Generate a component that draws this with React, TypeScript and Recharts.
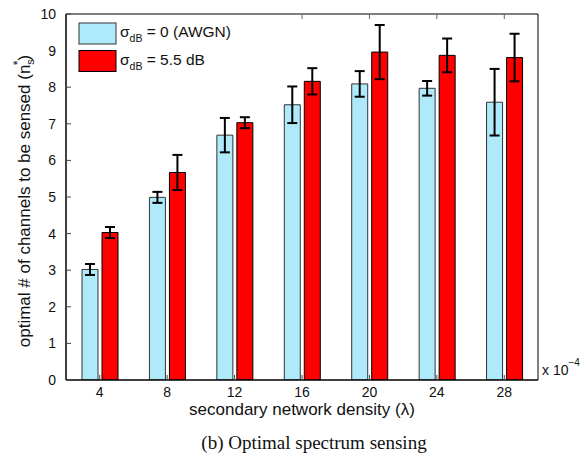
import React from 'react';
import { BarChart, Bar, XAxis, YAxis, ErrorBar, Legend, Customized } from 'recharts';

// ---- data ----
const lambdaLabels = ['4', '8', '12', '16', '20', '24', '28'];
const awgnMean = [3.02, 4.99, 6.69, 7.52, 8.09, 7.97, 7.59];
const awgnErr = [0.15, 0.15, 0.47, 0.5, 0.35, 0.2, 0.91];
const shadowMean = [4.03, 5.67, 7.03, 8.16, 8.96, 8.87, 8.81];
const shadowErr = [0.15, 0.48, 0.15, 0.36, 0.74, 0.46, 0.65];
const yTicks = [0, 1, 2, 3, 4, 5, 6, 7, 8, 9, 10];
const seriesNames = [
  { base: 'σ', sub: 'dB', rest: ' = 0 (AWGN)' },
  { base: 'σ', sub: 'dB', rest: ' = 5.5 dB' },
];

const data = lambdaLabels.map((l, i) => ({
  lambda: l,
  awgn: awgnMean[i],
  awgnErr: awgnErr[i],
  shadow: shadowMean[i],
  shadowErr: shadowErr[i],
}));

// ---- layout ----
const W = 588;
const H = 456;
const LEFT = 66;
const TOP = 14;
const RIGHT = 538;
const BOTTOM = 380;
const X_AXIS_H = 30;
const TOP_AXIS_H = 10;
const RIGHT_AXIS_W = 10;
const FONT = '"Liberation Sans", Arial, Helvetica, sans-serif';
const BLUE = '#AEEAF9';
const RED = '#FF0000';

const LeftTick = (props: any) => {
  const { y, payload } = props;
  return (
    <g>
      <text x={LEFT - 10} y={y + 5} textAnchor="end" fontSize={14} fontFamily={FONT} fill="#111">
        {payload.value}
      </text>
      <line x1={LEFT} x2={LEFT + 5} y1={y} y2={y} stroke="#444" strokeWidth={1} />
    </g>
  );
};

const RightTick = (props: any) => {
  const { y } = props;
  return <line x1={RIGHT} x2={RIGHT - 5} y1={y} y2={y} stroke="#666" strokeWidth={1} />;
};

const BottomTick = (props: any) => {
  const { x, payload } = props;
  return (
    <g>
      <text x={x} y={BOTTOM + 17} textAnchor="middle" fontSize={14} fontFamily={FONT} fill="#111">
        {payload.value}
      </text>
      <line x1={x} x2={x} y1={BOTTOM} y2={BOTTOM - 5} stroke="#444" strokeWidth={1} />
    </g>
  );
};

const TopTick = (props: any) => {
  const { x } = props;
  return <line x1={x} x2={x} y1={TOP} y2={TOP + 5} stroke="#666" strokeWidth={1} />;
};

const Decorations = () => (
  <g fontFamily={FONT} fill="#111">
    <text x={30} y={201} transform="rotate(-90 30 201)" textAnchor="middle" fontSize={17}>
      optimal # of channels to be sensed (n
      <tspan fontSize={11} dy={4}>s</tspan>
      <tspan fontSize={12} dx={-6} dy={-12}>*</tspan>
      <tspan fontSize={17} dy={8}>)</tspan>
    </text>
    <text x={(LEFT + RIGHT) / 2} y={415} textAnchor="middle" fontSize={17}>
      secondary network density (λ)
    </text>
    <text x={542} y={375} fontSize={14}>
      x 10
      <tspan fontSize={10} dy={-9}>−4</tspan>
    </text>
    <text
      x={314}
      y={449}
      textAnchor="middle"
      fontSize={19}
      fontFamily={'"Liberation Serif", "Times New Roman", serif'}
    >
      (b) Optimal spectrum sensing
    </text>
  </g>
);

const LegendContent = () => {
  const colors = [BLUE, RED];
  const strokes = ['#333', '#000'];
  return (
    <svg width={210} height={62} style={{ display: 'block' }}>
      <rect x={0} y={0} width={210} height={62} fill="#fff" />
      {seriesNames.map((s, i) => (
        <g key={i} fontFamily={FONT} fill="#111">
          <rect x={12} y={8 + i * 27.5} width={37} height={21} fill={colors[i]} stroke={strokes[i]} strokeWidth={1} />
          <text x={53} y={22 + i * 27.5} fontSize={15.5}>
            {s.base}
            <tspan fontSize={10.5} dy={5}>{s.sub}</tspan>
            <tspan fontSize={15.5} dy={-5}>{s.rest}</tspan>
          </text>
        </g>
      ))}
    </svg>
  );
};

export default function App() {
  return (
    <div style={{ position: 'absolute', left: 0, top: 0, width: W, height: H, background: '#fff' }}>
      <BarChart
        width={W}
        height={H}
        data={data}
        margin={{ top: TOP - TOP_AXIS_H, right: W - RIGHT - RIGHT_AXIS_W, bottom: H - BOTTOM - X_AXIS_H, left: 0 }}
        barSize={16}
        barGap={4}
      >
        <XAxis
          dataKey="lambda"
          type="category"
          interval={0}
          tickLine={false}
          tick={<BottomTick />}
          axisLine={{ stroke: '#000', strokeWidth: 1.5 }}
          height={X_AXIS_H}
        />
        <XAxis
          xAxisId="top"
          dataKey="lambda"
          type="category"
          orientation="top"
          interval={0}
          tickLine={false}
          tick={<TopTick />}
          axisLine={{ stroke: '#000', strokeWidth: 1 }}
          height={TOP_AXIS_H}
        />
        <YAxis
          domain={[0, 10]}
          ticks={yTicks}
          interval={0}
          tickLine={false}
          tick={<LeftTick />}
          axisLine={{ stroke: '#000', strokeWidth: 1.5 }}
          width={LEFT}
          allowDataOverflow
        />
        <YAxis
          yAxisId="right"
          orientation="right"
          domain={[0, 10]}
          ticks={yTicks}
          interval={0}
          tickLine={false}
          tick={<RightTick />}
          axisLine={{ stroke: '#000', strokeWidth: 1 }}
          width={RIGHT_AXIS_W}
        />
        <Legend
          layout="vertical"
          align="center"
          verticalAlign="middle"
          content={<LegendContent />}
          wrapperStyle={{ position: 'absolute', left: LEFT + 1, top: TOP + 1, width: 210, height: 62, right: 'auto', bottom: 'auto' }}
        />
        <Bar dataKey="awgn" name="σdB = 0 (AWGN)" fill={BLUE} stroke="#333" strokeWidth={1} isAnimationActive={false}>
          <ErrorBar dataKey="awgnErr" width={5} stroke="#000" strokeWidth={2} isAnimationActive={false} />
        </Bar>
        <Bar dataKey="shadow" name="σdB = 5.5 dB" fill={RED} stroke="#000" strokeWidth={1} isAnimationActive={false}>
          <ErrorBar dataKey="shadowErr" width={5} stroke="#000" strokeWidth={2} isAnimationActive={false} />
        </Bar>
        <Customized component={<Decorations />} />
      </BarChart>
    </div>
  );
}
